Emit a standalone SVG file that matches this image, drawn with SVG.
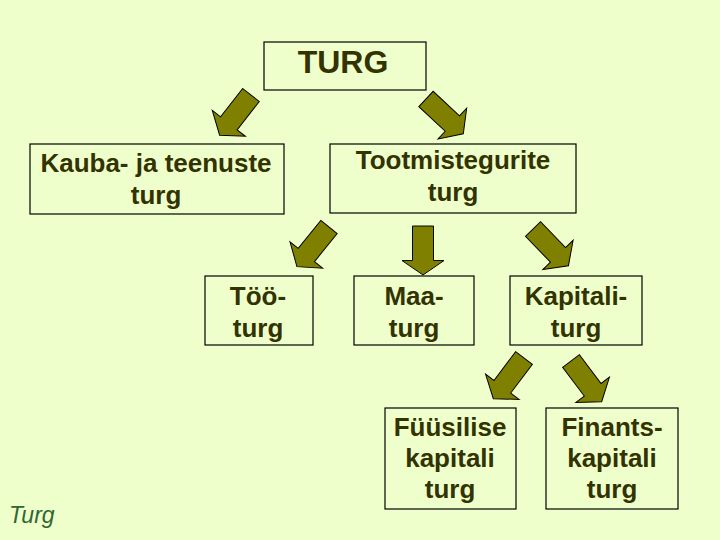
<svg xmlns="http://www.w3.org/2000/svg" width="720" height="540" viewBox="0 0 720 540">
<style>
.box{fill:#EEFFCC;stroke:#000;stroke-width:1.2}
.t{font-family:"Liberation Sans",Arial,sans-serif;font-weight:bold;font-size:26px;fill:#333300;text-anchor:middle}
.arr{fill:#808000;stroke:#000;stroke-width:1;stroke-linejoin:miter}
</style>
<defs>
<path id="arrow" d="M-10.5,0 H10.5 V36 H21 L0,51 L-21,36 H-10.5 Z"/>
</defs>
<rect width="720" height="540" fill="#EEFFCC"/>
<g id="connectors">
<use href="#arrow" class="arr" transform="translate(251,95) rotate(38)"/>
<use href="#arrow" class="arr" transform="translate(426,99) rotate(-47)"/>
<use href="#arrow" class="arr" transform="translate(329,227) rotate(39)"/>
<use href="#arrow" class="arr" transform="translate(423,226) scale(1,0.96)"/>
<use href="#arrow" class="arr" transform="translate(533,229) rotate(-44)"/>
<use href="#arrow" class="arr" transform="translate(524,358) rotate(37)"/>
<use href="#arrow" class="arr" transform="translate(571,361) rotate(-37)"/>
</g>
<g id="turg">
<rect class="box" x="264" y="42" width="162" height="48"/>
<text class="t" x="343" y="73" style="font-size:32px">TURG</text>
</g>
<g id="kauba">
<rect class="box" x="30" y="144" width="254" height="70"/>
<text class="t" x="156" y="172">Kauba- ja teenuste</text>
<text class="t" x="156" y="204">turg</text>
</g>
<g id="tootmistegurite">
<rect class="box" x="330" y="144" width="246" height="69"/>
<text class="t" x="453" y="169">Tootmistegurite</text>
<text class="t" x="453" y="201">turg</text>
</g>
<g id="too">
<rect class="box" x="205" y="276" width="108" height="69"/>
<text class="t" x="258" y="305">Töö-</text>
<text class="t" x="258" y="337">turg</text>
</g>
<g id="maa">
<rect class="box" x="354" y="276" width="120" height="69"/>
<text class="t" x="414" y="305">Maa-</text>
<text class="t" x="414" y="337">turg</text>
</g>
<g id="kapitali">
<rect class="box" x="510" y="276" width="132" height="69"/>
<text class="t" x="576" y="305">Kapitali-</text>
<text class="t" x="576" y="337">turg</text>
</g>
<g id="fuusilise">
<rect class="box" x="385" y="408" width="131" height="101"/>
<text class="t" x="450" y="436">Füüsilise</text>
<text class="t" x="450" y="467">kapitali</text>
<text class="t" x="450" y="498">turg</text>
</g>
<g id="finants">
<rect class="box" x="546" y="408" width="132" height="101"/>
<text class="t" x="612" y="436">Finants-</text>
<text class="t" x="612" y="467">kapitali</text>
<text class="t" x="612" y="498">turg</text>
</g>
<text x="9" y="523" style="font-family:'Liberation Sans',Arial,sans-serif;font-style:italic;font-size:23px;fill:#336633">Turg</text>
</svg>
